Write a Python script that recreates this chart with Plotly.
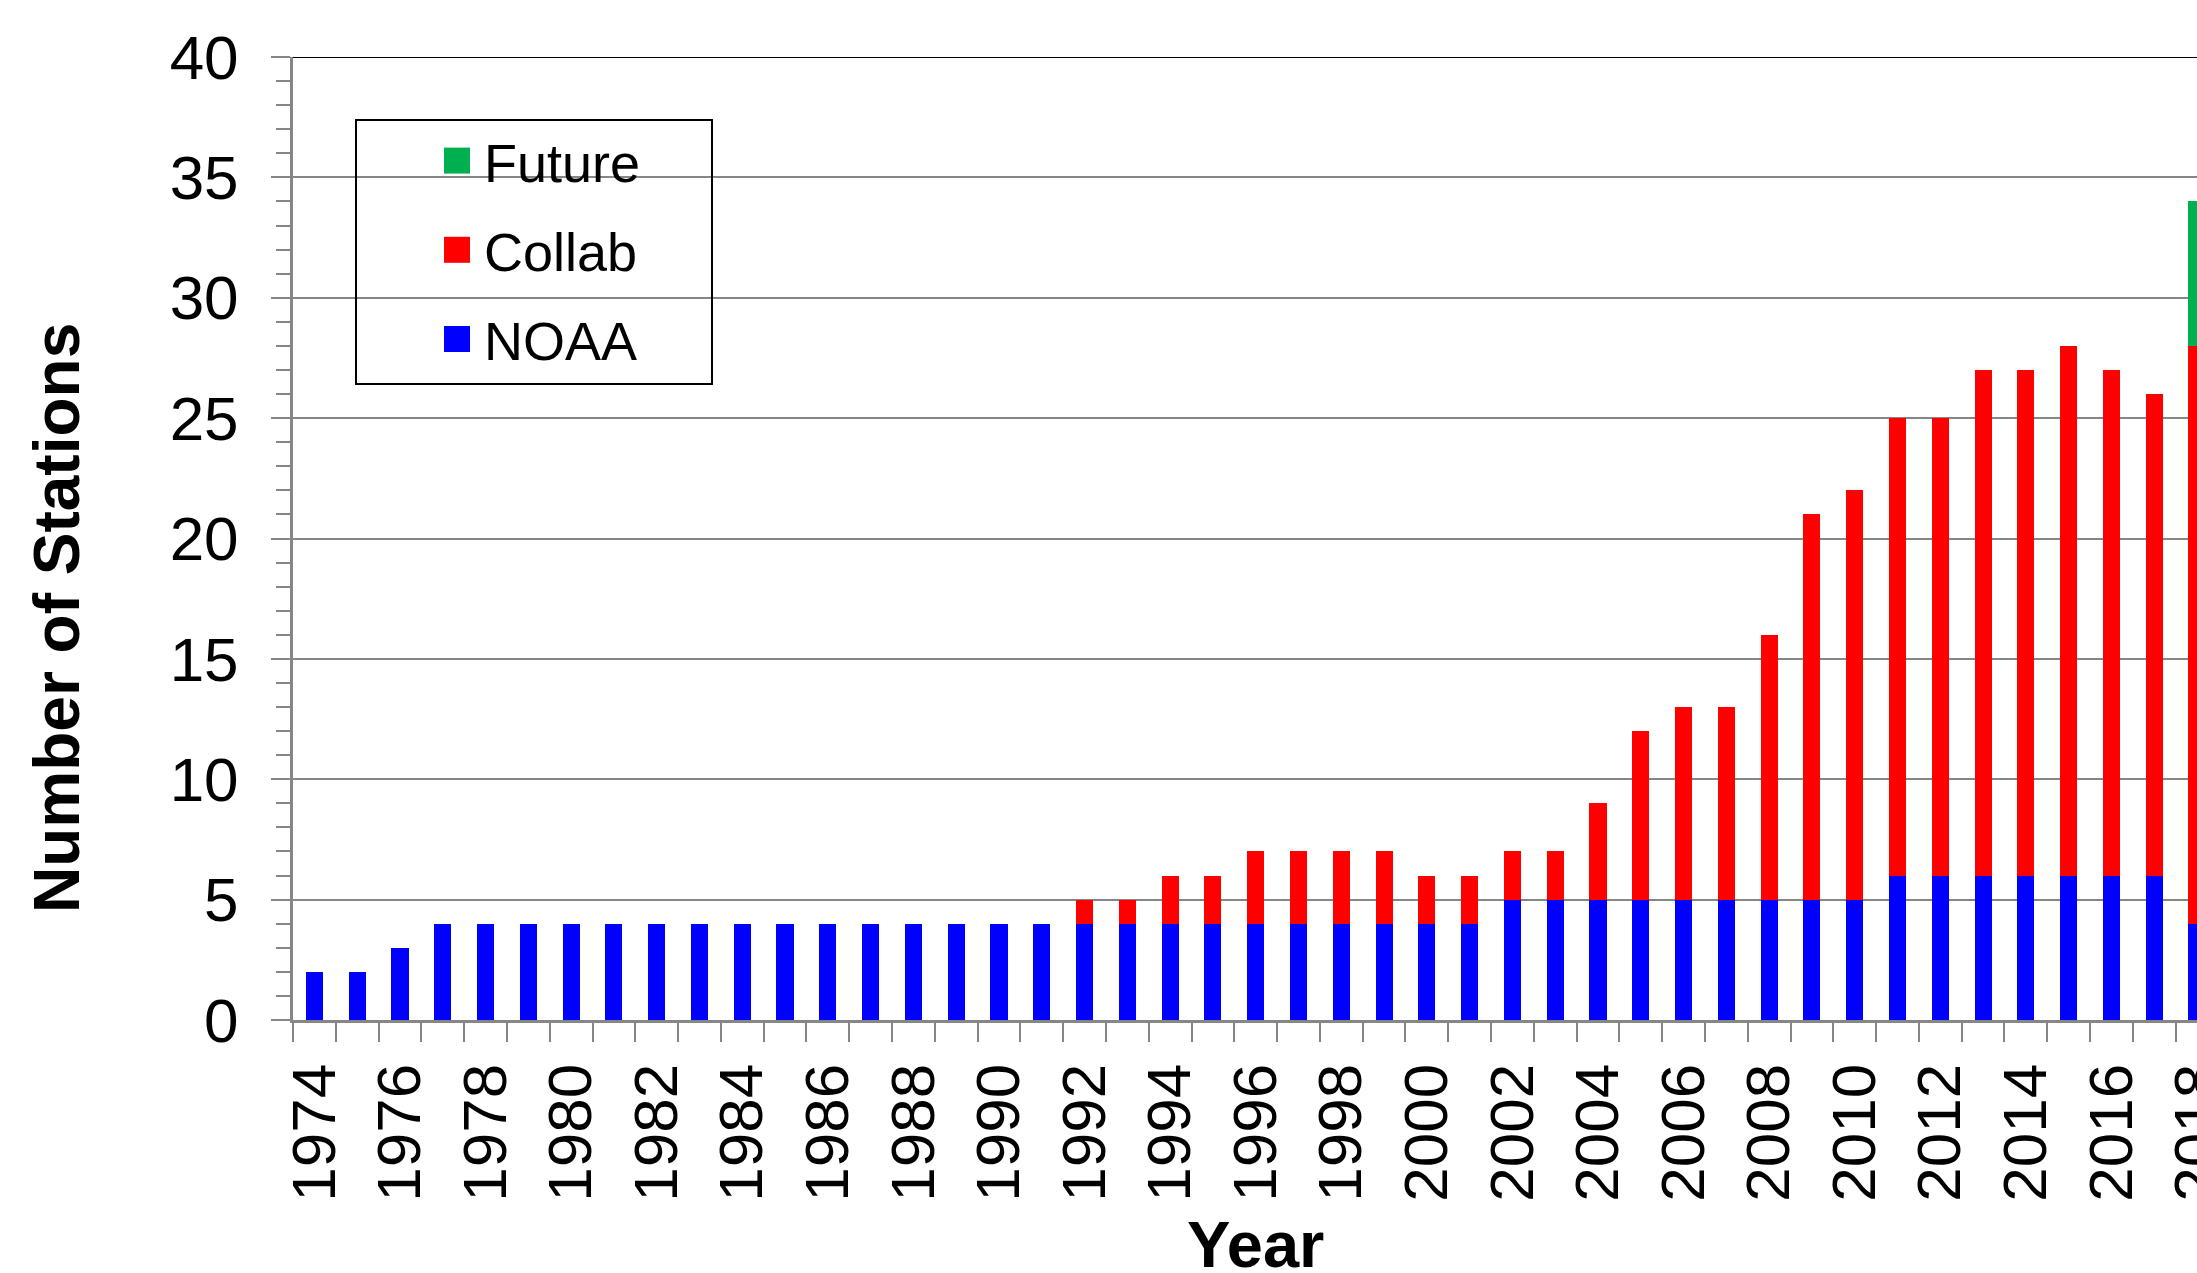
import plotly.graph_objects as go

years = list(range(1974, 2019))
noaa = [2, 2, 3, 4, 4, 4, 4, 4, 4, 4, 4, 4, 4, 4, 4, 4, 4, 4,
        4, 4, 4, 4, 4, 4, 4, 4, 4, 4, 5, 5, 5, 5, 5, 5, 5, 5, 5,
        6, 6, 6, 6, 6, 6, 6, 4]
collab = [0, 0, 0, 0, 0, 0, 0, 0, 0, 0, 0, 0, 0, 0, 0, 0, 0, 0,
          1, 1, 2, 2, 3, 3, 3, 3, 2, 2, 2, 2, 4, 7, 8, 8, 11, 16, 17,
          19, 19, 21, 21, 22, 21, 20, 24]
future = [0] * 44 + [6]

tick_years = list(range(1974, 2019, 2))
tick_text = [str(y) for y in tick_years]

FONT = "Arial, 'Liberation Sans', sans-serif"
GRAY = "#868686"

fig = go.Figure()
fig.add_trace(go.Bar(x=years, y=noaa, name="NOAA", marker=dict(color="#0000FF", line=dict(width=0)),
                     legendgroup="g3", legendrank=3))
fig.add_trace(go.Bar(x=years, y=collab, name="Collab", marker=dict(color="#FF0000", line=dict(width=0)),
                     legendgroup="g2", legendrank=2))
fig.add_trace(go.Bar(x=years, y=future, name="Future", marker=dict(color="#00B050", line=dict(width=0)),
                     legendgroup="g1", legendrank=1))

W, H = 2197, 1273
L, R, T, B = 293, 0, 57, 253
pw, ph = W - L - R, H - T - B

def px2paper(x, y):
    return (x - L) / pw, (H - B - y) / ph

lx, ly = px2paper(430, 119)
bx0, by0 = px2paper(356, 384)
bx1, by1 = px2paper(712, 120)
ytx, yty = px2paper(57, 618)
xtx, xty = px2paper(1255, 1244)

fig.update_layout(
    width=W, height=H,
    margin=dict(l=L, r=R, t=T, b=B, pad=0, autoexpand=False),
    barmode="stack",
    bargap=0.6,
    plot_bgcolor="white",
    paper_bgcolor="white",
    font=dict(family=FONT, color="black"),
    showlegend=True,
    legend=dict(
        x=lx, y=ly, xanchor="left", yanchor="top",
        traceorder="grouped",
        tracegroupgap=16,
        itemwidth=44,
        font=dict(size=54, family=FONT, color="black"),
        bgcolor="rgba(0,0,0,0)",
        borderwidth=0,
    ),
    xaxis=dict(
        range=[1973.5, 2018.0],
        automargin=False,
        tickmode="array",
        tickvals=tick_years,
        ticktext=tick_text,
        tickangle=-90,
        tickfont=dict(size=62, family=FONT, color="black"),
        ticks="",
        ticklabelstandoff=16,
        ticklabeloverflow="allow",
        showgrid=False,
        showline=True, linecolor=GRAY, linewidth=3,
        zeroline=False,
        minor=dict(tickmode="linear", tick0=1973.5, dtick=1, ticks="outside",
                   ticklen=19, tickwidth=2, tickcolor=GRAY, showgrid=False),
    ),
    yaxis=dict(
        range=[0, 40],
        automargin=False,
        tickmode="linear", tick0=0, dtick=5,
        tickfont=dict(size=62, family=FONT, color="black"),
        ticks="outside", ticklen=19, tickwidth=2, tickcolor=GRAY,
        ticklabelstandoff=20,
        showgrid=True, gridcolor=GRAY, gridwidth=2,
        showline=True, linecolor=GRAY, linewidth=3,
        zeroline=False,
        minor=dict(tickmode="linear", tick0=0, dtick=1, ticks="outside",
                   ticklen=14, tickwidth=2, tickcolor=GRAY, showgrid=False),
    ),
    shapes=[
        dict(type="line", xref="paper", yref="y", x0=0, x1=1, y0=40, y1=40,
             line=dict(color="black", width=2)),
        dict(type="rect", xref="paper", yref="paper", x0=bx0, x1=bx1, y0=by0, y1=by1,
             line=dict(color="black", width=2), fillcolor="rgba(0,0,0,0)", layer="above"),
    ],
    annotations=[
        dict(text="<b>Number of Stations</b>", xref="paper", yref="paper", x=ytx, y=yty,
             xanchor="center", yanchor="middle", textangle=-90, showarrow=False,
             font=dict(size=64, family=FONT, color="black")),
        dict(text="<b>Year</b>", xref="paper", yref="paper", x=xtx, y=xty,
             xanchor="center", yanchor="middle", showarrow=False,
             font=dict(size=65, family=FONT, color="black")),
    ],
)

post = """
document.body.style.margin = '0';
document.body.style.overflow = 'hidden';
var gd = document.getElementById('{plot_id}');
gd.querySelectorAll('.legendpoints path').forEach(function(p){ p.setAttribute('d','M13,13H-13V-13H13Z'); });
"""
fig.write_html("out.html", post_script=post, config={"displayModeBar": False})
